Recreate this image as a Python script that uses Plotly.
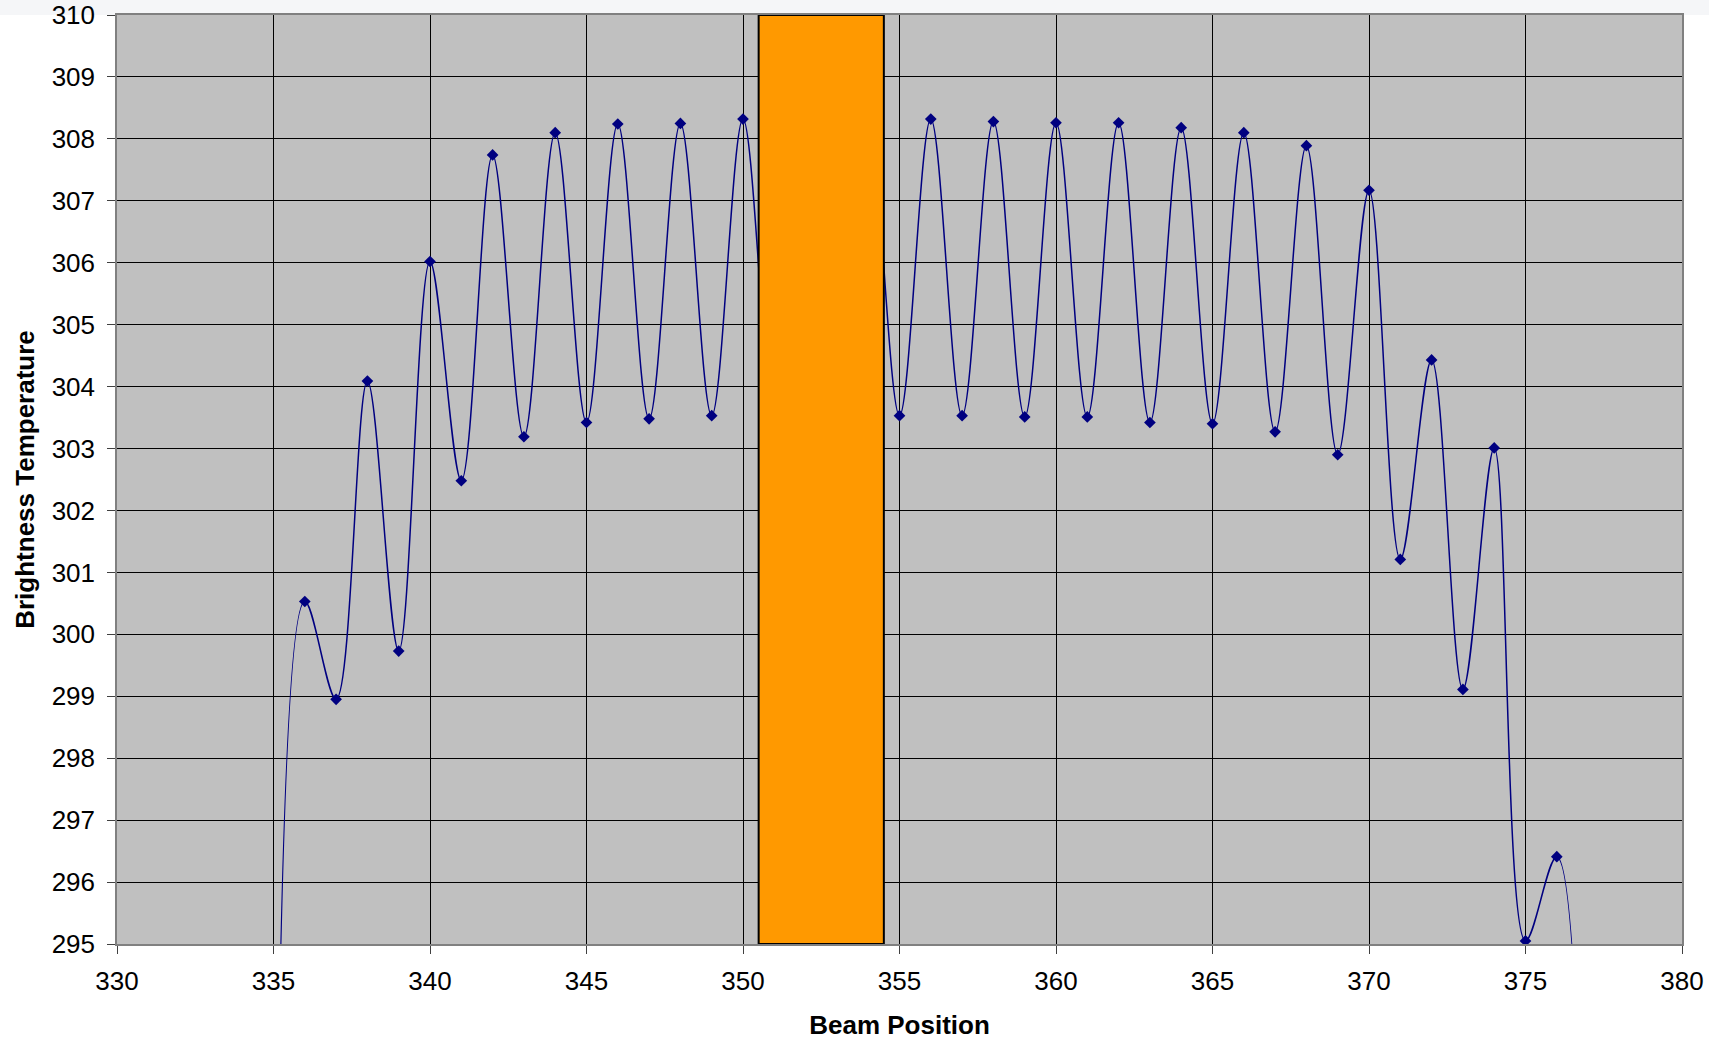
import plotly.graph_objects as go

# ---- data ----
beam_position = list(range(335, 378))
brightness_temp = [
    277.0,   # 335 (below axis range)
    300.53, 298.95, 304.09, 299.73, 306.02, 302.48, 307.74, 303.19, 308.10, 303.42,  # 336-345
    308.24, 303.48, 308.25, 303.53, 308.32, 303.55, 308.33, 303.55, 308.33, 303.53,  # 346-355
    308.32, 303.53, 308.28, 303.51, 308.26, 303.51, 308.26, 303.42, 308.18, 303.40,  # 356-365
    308.10, 303.27, 307.89, 302.90, 307.17, 301.21, 304.43, 299.11, 303.01, 295.05,  # 366-375
    296.41,  # 376
    270.0,   # 377 (below axis range)
]
masked_start = 350.5
masked_end = 354.5
x_ticks = [330, 335, 340, 345, 350, 355, 360, 365, 370, 375, 380]
y_ticks = list(range(295, 311))

W, H = 1709, 1040
ML, MR, MT, MB = 117, 27, 15, 96

fig = go.Figure()
fig.add_trace(go.Scatter(
    x=beam_position, y=brightness_temp,
    mode="lines+markers",
    line=dict(color="#000080", width=1.5, shape="spline", smoothing=1.0),
    marker=dict(symbol="diamond", size=9, color="#000080"),
    showlegend=False,
))

fig.add_shape(type="rect", xref="x", yref="y",
              x0=masked_start, x1=masked_end, y0=295, y1=310,
              fillcolor="#FF9900", line=dict(color="black", width=2),
              layer="above")

# light band above the plot
fig.add_shape(type="rect", xref="paper", yref="paper",
              x0=-ML / (W - ML - MR), x1=1 + MR / (W - ML - MR),
              y0=1, y1=1 + MT / (H - MT - MB),
              fillcolor="#F5F6F8", line=dict(width=0), layer="below")

font_family = "Liberation Sans, Arial, sans-serif"

fig.update_layout(
    width=W, height=H,
    margin=dict(l=ML, r=MR, t=MT, b=MB, autoexpand=False),
    paper_bgcolor="white",
    plot_bgcolor="#C0C0C0",
    font=dict(family=font_family, size=26, color="black"),
    xaxis=dict(
        range=[330, 380], tickvals=x_ticks, ticktext=[str(v) for v in x_ticks],
        showgrid=True, gridcolor="black", gridwidth=1,
        zeroline=False, automargin=False,
        showline=True, linecolor="#808080", linewidth=1.5, mirror=True,
        ticks="outside", ticklen=8, tickcolor="#404040", tickwidth=1,
        ticklabelstandoff=5,
        tickfont=dict(size=26, family=font_family),
        title=dict(text="<b>Beam Position</b>", font=dict(size=26, family=font_family), standoff=21),
    ),
    yaxis=dict(
        range=[295, 310], tickvals=y_ticks, ticktext=[str(v) for v in y_ticks],
        showgrid=True, gridcolor="black", gridwidth=1,
        zeroline=False, automargin=False,
        showline=True, linecolor="#808080", linewidth=1.5, mirror=True,
        ticks="outside", ticklen=8, tickcolor="#404040", tickwidth=1,
        ticklabelstandoff=7,
        tickfont=dict(size=26, family=font_family),
        title=dict(text="<b>Brightness Temperature</b>", font=dict(size=26, family=font_family), standoff=10),
    ),
)

fig.write_html("out.html")
